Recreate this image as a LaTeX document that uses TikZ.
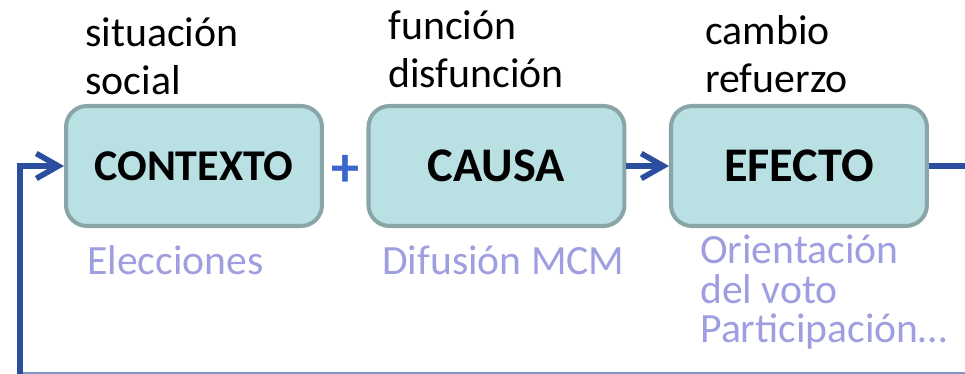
\documentclass[tikz,border=0pt]{standalone}
\usepackage{fontspec}
\setmainfont{Carlito}
\usetikzlibrary{arrows.meta, positioning, calc}
\definecolor{boxfill}{RGB}{185,224,227}
\definecolor{boxline}{RGB}{138,165,167}
\definecolor{flowblue}{RGB}{43,79,158}
\definecolor{plusblue}{RGB}{58,102,204}
\definecolor{lavender}{RGB}{158,158,224}
\definecolor{edgeblue}{RGB}{127,149,200}

\begin{document}
\begin{tikzpicture}[x=0.02cm, y=-0.02cm,
  stage/.style={draw=boxline, fill=boxfill, line width=2.3pt, rounded corners=0.42cm,
    minimum width=5.12cm, minimum height=2.4cm, font=\bfseries\fontsize{27.5}{31}\selectfont},
  toplabel/.style={anchor=base west, inner sep=0pt, align=left, font=\fontsize{23.8}{27.8}\selectfont},
  example/.style={anchor=base west, inner sep=0pt, align=left, text=lavender, font=\fontsize{23.7}{22.7}\selectfont},
  flow/.style={draw=flowblue, line width=3.2pt, -{Straight Barb[length=0.44cm, width=0.5cm]}},
  flowline/.style={draw=flowblue, line width=3.2pt}]
\useasboundingbox (0,0) rectangle (965,374);
\node[stage, font=\bfseries\fontsize{25}{29}\selectfont] (contexto) at (194,166) {CONTEXTO};
\node[stage, right=0.85cm of contexto] (causa) {CAUSA};
\node[stage, right=0.85cm of causa] (efecto) {EFECTO};
\node[text=plusblue, font=\bfseries\fontsize{32}{36}\selectfont] (mas) at ($(contexto.east)!0.5!(causa.west)+(0,5)$) {+};

\node[toplabel] (sit) at (85,95) {situación\\social};
\node[toplabel] (fun) at (388,88) {función\\disfunción};
\node[toplabel] (cam) at (705,93) {cambio\\refuerzo};

\node[example] (elec) at (87,275) {Elecciones};
\node[example] (dif) at (382,275) {Difusión MCM};
\node[example] (ori) at (700,343) {Orientación\\del voto\\Participación…};

\coordinate (fbot) at (20,374);
\coordinate (fright) at (965,166);
\coordinate (edge) at (965,373);
\draw[edgeblue, line width=0.6pt] (fbot |- edge) -- (edge);
\draw[flow] (fbot) |- (contexto.west);
\draw[flow] (causa.east) -- (efecto.west);
\draw[flowline] (efecto.east) -- (fright);
\end{tikzpicture}
\end{document}
